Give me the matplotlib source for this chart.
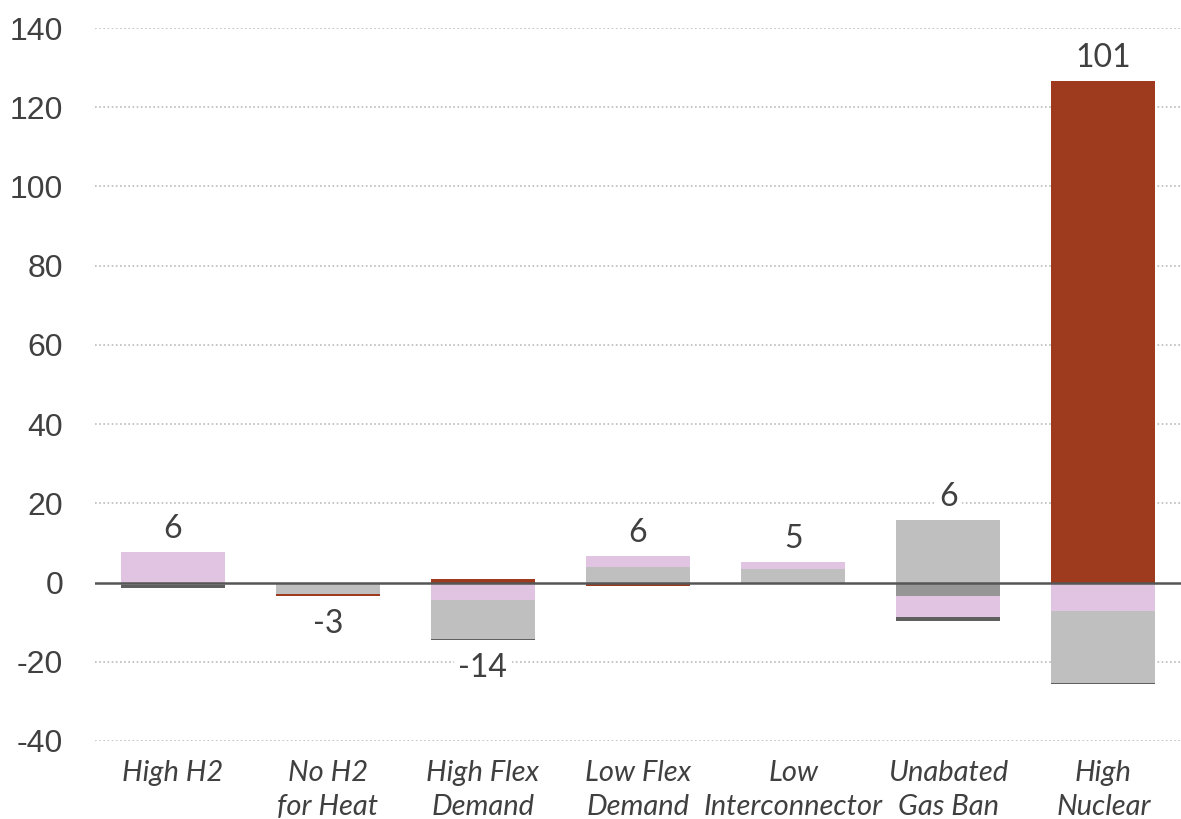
import matplotlib
matplotlib.use("Agg")
import matplotlib.pyplot as plt
import numpy as np

categories = ["High H2", "No H2\nfor Heat", "High Flex\nDemand", "Low Flex\nDemand",
              "Low\nInterconnector", "Unabated\nGas Ban", "High\nNuclear"]

# Change in each component by scenario
nuclear    = [-0.2, -0.6,  0.9, -0.8, 0.0,  0.0, 126.7]
pink_part  = [ 7.7,  0.0, -4.3,  2.8, 1.8, -5.1,  -7.1]
light_grey = [-0.5, -2.8, -9.9,  4.0, 3.5, 15.9, -18.2]
mid_grey   = [ 0.0,  0.0,  0.0,  0.0, 0.0, -3.5,   0.0]
dark_grey  = [-0.8,  0.0, -0.4,  0.0, 0.0, -1.1,  -0.4]

yticks = [-40, -20, 0, 20, 40, 60, 80, 100, 120, 140]

series = {
    "nuclear": (nuclear, "#9E3A1E"),
    "pink": (pink_part, "#E1C4E1"),
    "light": (light_grey, "#BFBFBF"),
    "mid": (mid_grey, "#969696"),
    "dark": (dark_grey, "#5F5F5F"),
}
pos_order = ["light", "pink", "nuclear", "mid", "dark"]
neg_order = ["mid", "pink", "light", "nuclear", "dark"]

fig = plt.figure(figsize=(11.81, 8.19), dpi=100)
ax = fig.add_axes([95 / 1181, 78 / 819, 1086 / 1181, 713 / 819])

x = np.arange(len(categories))
width = 0.67

pos_base = np.zeros(len(categories))
neg_base = np.zeros(len(categories))
for key in pos_order:
    vals, col = series[key]
    v = np.clip(np.array(vals, dtype=float), 0, None)
    ax.bar(x, v, width, bottom=pos_base, color=col, edgecolor="none", zorder=2)
    pos_base += v
for key in neg_order:
    vals, col = series[key]
    v = np.clip(np.array(vals, dtype=float), None, 0)
    ax.bar(x, v, width, bottom=neg_base, color=col, edgecolor="none", zorder=2)
    neg_base += v

totals = np.sum([nuclear, pink_part, light_grey, mid_grey, dark_grey], axis=0)
for i, t in enumerate(totals):
    if t >= 0:
        y, off = pos_base[i], 16.5
    else:
        y, off = neg_base[i], -20
    ax.annotate(f"{int(round(t))}", (x[i], y), xytext=(0, off), textcoords="offset points",
                ha="center", va="center", fontsize=23, family="Lato", color="#404040",
                bbox=dict(boxstyle="square,pad=0.15", fc="white", ec="none"), zorder=4)

ax.set_ylim(-40, 140)
ax.set_xlim(-0.5, 6.5)
ax.set_yticks(yticks)
ax.set_yticklabels([str(v) for v in yticks], family="Liberation Sans", fontsize=23, color="#404040")
ax.set_xticks(x)
ax.set_xticklabels(categories, family="Lato", style="italic", fontsize=21, color="#404040",
                   linespacing=1.38)
ax.tick_params(axis="y", length=0, pad=23)
ax.tick_params(axis="x", length=0, pad=13.5)

for v in yticks:
    if v != 0:
        ax.axhline(v, color="#BBBBBB", lw=1.2, ls=(0, (1, 1.5)), zorder=1)
ax.axhline(0, color="#555555", lw=1.8, zorder=3)

for s in ax.spines.values():
    s.set_visible(False)

fig.savefig("out.png", dpi=100)
